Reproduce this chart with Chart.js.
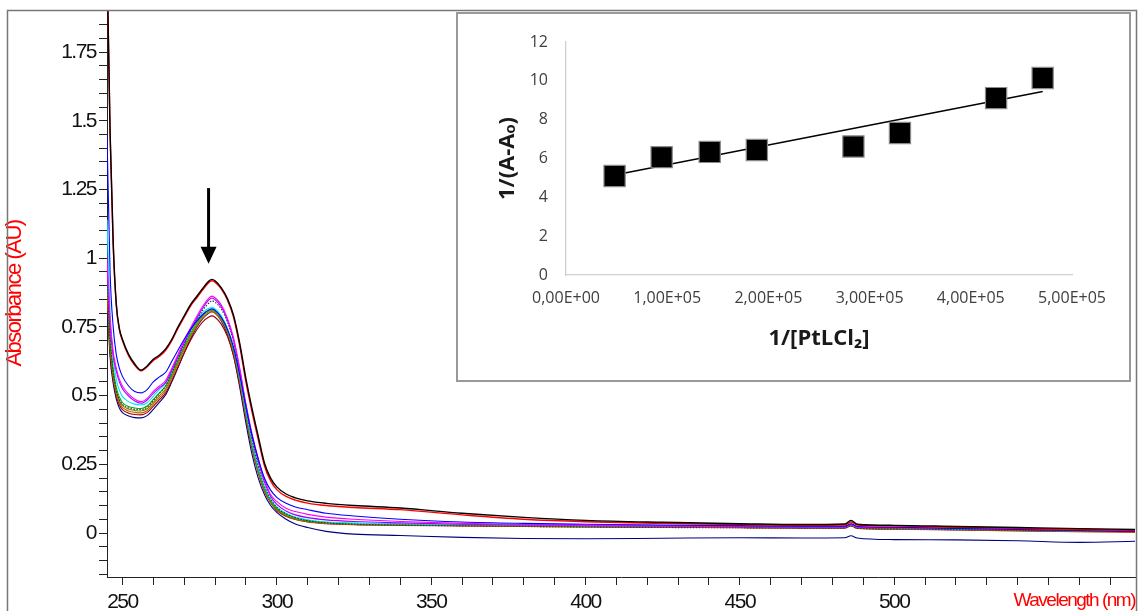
<!DOCTYPE html>
<html>
<head>
<meta charset="utf-8">
<script src="https://cdn.jsdelivr.net/npm/chart.js@4.4.1/dist/chart.umd.min.js"></script>
<style>
  html, body { margin: 0; padding: 0; background: #fff; overflow: hidden; }
  #wrap { position: relative; width: 1141px; height: 611px; }
  #main { position: absolute; left: 0; top: 0; }
  #inset { position: absolute; left: 456px; top: 12px; width: 675px; height: 370px;
           box-sizing: border-box; border: 2px solid #999; background: #fff; }
  #insetChart { display: block; }
</style>
</head>
<body>
<div id="wrap">
  <canvas id="main" width="1141" height="611"></canvas>
  <div id="inset"><canvas id="insetChart" width="671" height="366"></canvas></div>
</div>
<script>
/* ── Spectra (absorbance vs wavelength) ─────────────────────── */
var wavelengths = [245,246,247,248,249,250,252,254,256,258,260,262,264,266,268,270,272,274,276,278,279,280,
  282,284,286,288,290,292,294,296,298,300,303,306,310,316,325,340,360,380,400,425,450,470,484,486,488,500,520,540,560,578];

var absBlack   = [2.1,1.46,1.06,0.835,0.745,0.705, 0.65,0.615,0.593,0.608,0.632,0.648,0.67,0.705,0.75,0.79,
  0.83,0.86,0.89,0.917,0.923,0.918, 0.893,0.853,0.792,0.69,0.562, 0.452,0.352,0.255,0.2,0.168,
  0.142,0.128,0.117,0.108,0.1, 0.091,0.072,0.057,0.046,0.039, 0.034,0.031,0.033,0.046,0.032, 0.028,0.024,0.02,0.016,0.013];
var absRed     = [2.1,1.45,1.05,0.83,0.74,0.70, 0.645,0.61,0.59,0.605,0.628,0.643,0.665,0.70,0.745,0.785,
  0.825,0.855,0.885,0.912,0.918,0.913, 0.888,0.848,0.785,0.68,0.55, 0.44,0.34,0.245,0.19,0.158,
  0.133,0.12,0.109,0.1,0.093, 0.085,0.066,0.05,0.041,0.035, 0.031,0.028,0.029,0.04,0.029, 0.025,0.021,0.017,0.013,0.009];
var absBlue    = [1.45,0.95,0.75,0.65,0.6,0.57, 0.535,0.515,0.51,0.522,0.55,0.568,0.585,0.625,0.665,0.705,
  0.74,0.77,0.795,0.811,0.815,0.81, 0.785,0.742,0.675,0.575,0.46, 0.355,0.27,0.2,0.156,0.13,
  0.108,0.095,0.085,0.072,0.062, 0.05,0.04,0.035,0.032,0.029, 0.027,0.025,0.025,0.034,0.024, 0.021,0.017,0.013,0.009,0.006];
var absMagenta = [1.0,0.78,0.66,0.6,0.56,0.535, 0.505,0.487,0.478,0.49,0.515,0.535,0.555,0.6,0.65,0.7,
  0.745,0.787,0.825,0.855,0.862,0.856, 0.83,0.782,0.71,0.6,0.47, 0.36,0.27,0.195,0.14,0.115,
  0.09,0.078,0.068,0.058,0.05, 0.042,0.035,0.031,0.028,0.026, 0.024,0.023,0.023,0.033,0.022, 0.02,0.018,0.016,0.014,0.012];
var absPurple  = [0.98,0.76,0.645,0.59,0.55,0.525, 0.498,0.48,0.472,0.484,0.508,0.528,0.548,0.592,0.642,0.692,
  0.738,0.78,0.818,0.848,0.855,0.849, 0.823,0.775,0.703,0.594,0.465, 0.352,0.26,0.186,0.134,0.104,
  0.08,0.066,0.056,0.048,0.042, 0.037,0.032,0.029,0.027,0.025, 0.023,0.022,0.022,0.031,0.021, 0.019,0.017,0.015,0.013,0.011];
var absCyan    = [1.14,0.8,0.64,0.56,0.52,0.497, 0.478,0.469,0.466,0.474,0.498,0.522,0.545,0.59,0.64,0.69,
  0.735,0.775,0.803,0.818,0.82,0.815, 0.79,0.745,0.675,0.57,0.445, 0.33,0.238,0.168,0.122,0.095,
  0.072,0.058,0.048,0.04,0.036, 0.033,0.031,0.029,0.027,0.026, 0.024,0.023,0.023,0.031,0.022, 0.019,0.016,0.013,0.01,0.008];
var absGray    = [0.93,0.7,0.585,0.52,0.486,0.468, 0.455,0.45,0.449,0.458,0.482,0.508,0.535,0.582,0.634,0.686,
  0.735,0.776,0.81,0.837,0.845,0.84, 0.815,0.768,0.695,0.585,0.455, 0.34,0.245,0.172,0.125,0.093,
  0.07,0.056,0.045,0.037,0.032, 0.029,0.026,0.024,0.022,0.02, 0.019,0.018,0.018,0.026,0.017, 0.015,0.012,0.01,0.008,0.006];
var absGreen   = [0.97,0.72,0.6,0.53,0.495,0.475, 0.46,0.455,0.453,0.462,0.486,0.51,0.535,0.58,0.63,0.68,
  0.725,0.765,0.795,0.812,0.815,0.81, 0.785,0.74,0.67,0.565,0.44, 0.325,0.232,0.163,0.118,0.09,
  0.068,0.055,0.045,0.039,0.035, 0.032,0.03,0.028,0.026,0.025, 0.023,0.022,0.022,0.03,0.021, 0.018,0.015,0.012,0.009,0.007];
var absOlive   = [0.92,0.69,0.58,0.515,0.482,0.464, 0.451,0.446,0.444,0.452,0.476,0.5,0.525,0.571,0.622,0.673,
  0.718,0.758,0.789,0.806,0.81,0.805, 0.78,0.735,0.664,0.558,0.432, 0.318,0.227,0.158,0.114,0.086,
  0.065,0.052,0.043,0.037,0.033, 0.03,0.028,0.026,0.024,0.023, 0.021,0.02,0.02,0.028,0.019, 0.016,0.013,0.01,0.007,0.005];
var absBrown   = [0.9,0.675,0.57,0.508,0.475,0.457, 0.444,0.439,0.437,0.445,0.469,0.493,0.518,0.564,0.615,0.666,
  0.712,0.752,0.783,0.801,0.805,0.8, 0.775,0.73,0.658,0.552,0.427, 0.313,0.223,0.155,0.112,0.084,
  0.063,0.05,0.041,0.035,0.031, 0.029,0.027,0.025,0.023,0.022, 0.02,0.019,0.019,0.027,0.018, 0.015,0.012,0.009,0.006,0.004];
var absDarkRed = [0.88,0.66,0.56,0.5,0.467,0.449, 0.436,0.431,0.43,0.438,0.461,0.485,0.51,0.555,0.605,0.655,
  0.7,0.738,0.768,0.786,0.79,0.785, 0.76,0.716,0.645,0.54,0.418, 0.306,0.218,0.152,0.11,0.082,
  0.061,0.049,0.04,0.034,0.03, 0.028,0.026,0.024,0.022,0.021, 0.019,0.018,0.018,0.026,0.017, 0.014,0.011,0.008,0.005,0.003];
var absNavy    = [0.86,0.64,0.545,0.488,0.455,0.438, 0.426,0.42,0.419,0.427,0.45,0.476,0.503,0.55,0.602,0.655,
  0.705,0.748,0.78,0.8,0.805,0.8, 0.772,0.722,0.645,0.53,0.4, 0.285,0.2,0.14,0.1,0.075,
  0.05,0.033,0.02,0.006,-0.004, -0.009,-0.016,-0.02,-0.021,-0.019, -0.017,-0.018,-0.017,-0.01,-0.018, -0.024,-0.025,-0.028,-0.034,-0.03];

var yMajorLabels = ['0', '0.25', '0.5', '0.75', '1', '1.25', '1.5', '1.75'];
var xMajorLabels = ['250', '300', '350', '400', '450', '500'];

/* ── Inset: double reciprocal plot ──────────────────────────── */
var recipConc   = [4.8e4, 9.45e4, 1.42e5, 1.886e5, 2.84e5, 3.30e5, 4.25e5, 4.71e5];
var recipAbs    = [5.10, 6.07, 6.34, 6.44, 6.62, 7.31, 9.11, 10.15];
var fitX        = [4.8e4, 4.71e5];
var fitY        = [5.15, 9.45];
var insetXLabels = ['0,00E+00', '1,00E+05', '2,00E+05', '3,00E+05', '4,00E+05', '5,00E+05'];
var insetYLabels = ['0', '2', '4', '6', '8', '10', '12'];

var mainFont = "'Liberation Sans', 'Arial', sans-serif";
var insetFont = "'Open Sans', 'Liberation Sans', sans-serif";

function pts(ys) {
  return wavelengths.map(function(x, i) { return { x: x, y: ys[i] }; });
}

function spectrum(data, color, width, dash) {
  return {
    data: pts(data), borderColor: color, borderWidth: width || 1.1,
    borderDash: dash || [], pointRadius: 0, fill: false,
    cubicInterpolationMode: 'monotone'
  };
}

function noOverflow(scale) {
  scale.paddingTop = 0; scale.paddingBottom = 0;
  scale.paddingLeft = 0; scale.paddingRight = 0;
}

var frameAndArrow = {
  id: 'frameAndArrow',
  beforeDraw: function(chart) {
    var ctx = chart.ctx;
    ctx.save();
    ctx.fillStyle = '#fff';
    ctx.fillRect(0, 0, chart.width, chart.height);
    ctx.restore();
    // the original axis text is set tight (narrow face)
    ctx.letterSpacing = '-1.5px';
  },
  afterDatasetsDraw: function(chart) {
    var ctx = chart.ctx, xs = chart.scales.x, ys = chart.scales.y;
    var px = xs.getPixelForValue(277.9);
    var top = ys.getPixelForValue(1.255), tip = ys.getPixelForValue(0.98);
    ctx.save();
    ctx.strokeStyle = '#000';
    ctx.fillStyle = '#000';
    ctx.lineWidth = 3;
    ctx.beginPath();
    ctx.moveTo(px, top);
    ctx.lineTo(px, tip - 12);
    ctx.stroke();
    ctx.beginPath();
    ctx.moveTo(px - 8, tip - 17);
    ctx.lineTo(px + 8, tip - 17);
    ctx.lineTo(px, tip);
    ctx.closePath();
    ctx.fill();
    ctx.restore();
  },
  afterDraw: function(chart) {
    var ctx = chart.ctx;
    ctx.save();
    ctx.strokeStyle = '#777';
    ctx.lineWidth = 1.5;
    ctx.strokeRect(7.5, 10.5, 1129, 700);
    ctx.restore();
  }
};

function labelFor(list, v) {
  for (var i = 0; i < list.length; i++) {
    if (Math.abs(parseFloat(list[i]) - v) < 1e-6) return list[i];
  }
  return '';
}

new Chart(document.getElementById('main'), {
  type: 'line',
  data: {
    datasets: [
      spectrum(absBlack, '#000000', 1.4),
      spectrum(absRed, '#ff0000', 1.4),
      spectrum(absBlue, '#0000ff'),
      spectrum(absMagenta, '#ff00ff'),
      spectrum(absPurple, '#9900ff'),
      spectrum(absGray, '#333333', 1.1, [1.5, 1.5]),
      spectrum(absCyan, '#00e5ff'),
      spectrum(absGreen, '#00b000'),
      spectrum(absOlive, '#808000'),
      spectrum(absBrown, '#c06000'),
      spectrum(absDarkRed, '#a00000'),
      spectrum(absNavy, '#000080')
    ]
  },
  options: {
    responsive: false, animation: false,
    layout: { padding: { top: 10, right: 6, left: 0, bottom: 0 } },
    plugins: { legend: { display: false }, tooltip: { enabled: false } },
    scales: {
      x: {
        type: 'linear', min: 245, max: 578,
        afterBuildTicks: function(scale) {
          var t = [];
          for (var v = 250; v <= 570; v += 10) t.push({ value: v });
          scale.ticks = t;
        },
        afterFit: function(scale) { scale.height = 34; noOverflow(scale); },
        grid: { drawOnChartArea: false, drawTicks: true, tickLength: 8, tickColor: '#222', tickWidth: 1 },
        border: { display: true, color: '#222', width: 1 },
        ticks: {
          autoSkip: false, maxRotation: 0, padding: 5, color: '#111',
          font: { family: mainFont, size: 21 },
          callback: function(v) { return labelFor(xMajorLabels, v); }
        },
        title: {
          display: true, text: 'Wavelength (nm)', align: 'end', color: '#ff0000',
          font: { family: mainFont, size: 19, lineHeight: 1 }, padding: { top: 0, bottom: 1 }
        }
      },
      y: {
        type: 'linear', min: -0.16, max: 1.903,
        afterBuildTicks: function(scale) {
          var t = [];
          for (var k = -3; k <= 37; k++) t.push({ value: Math.round(k * 5) / 100 });
          scale.ticks = t;
        },
        afterFit: function(scale) { scale.width = 107; noOverflow(scale); },
        grid: { drawOnChartArea: false, drawTicks: true, tickLength: 8, tickColor: '#222', tickWidth: 1 },
        border: { display: true, color: '#222', width: 1 },
        ticks: {
          autoSkip: false, padding: 3, color: '#111',
          font: { family: mainFont, size: 21 },
          callback: function(v) { return labelFor(yMajorLabels, v); }
        },
        title: {
          display: true, text: 'Absorbance (AU)', color: '#ff0000',
          font: { family: mainFont, size: 22, lineHeight: 1 }, padding: { top: 4, bottom: 0 }
        }
      }
    }
  },
  plugins: [frameAndArrow]
});

new Chart(document.getElementById('insetChart'), {
  type: 'scatter',
  data: {
    datasets: [
      {
        data: recipConc.map(function(x, i) { return { x: x, y: recipAbs[i] }; }),
        pointStyle: 'rect', pointRadius: 15, pointHoverRadius: 15,
        backgroundColor: '#000', borderColor: '#8a8a8a', borderWidth: 1.2
      },
      {
        type: 'line',
        data: fitX.map(function(x, i) { return { x: x, y: fitY[i] }; }),
        borderColor: '#000', borderWidth: 1.3, pointRadius: 0, fill: false
      }
    ]
  },
  options: {
    responsive: false, animation: false,
    layout: { padding: { top: 28, right: 57, left: 0, bottom: 0 } },
    plugins: { legend: { display: false }, tooltip: { enabled: false } },
    scales: {
      x: {
        type: 'linear', min: 0, max: 5e5,
        ticks: {
          stepSize: 1e5, padding: 14, color: '#404040', maxRotation: 0,
          font: { family: insetFont, size: 16 },
          callback: function(v, i) { return insetXLabels[i]; }
        },
        afterFit: function(scale) { scale.height = 105; noOverflow(scale); },
        grid: { display: false, drawTicks: false },
        border: { display: true, color: '#d0d0d0', width: 1.3 },
        title: {
          display: true, text: '1/[PtLCl\u2082]', color: '#1a1a1a',
          font: { family: insetFont, size: 22, weight: 'bold', lineHeight: 1.2 },
          padding: { top: 0, bottom: 28 }
        }
      },
      y: {
        type: 'linear', min: 0, max: 12,
        ticks: {
          stepSize: 2, padding: 18, color: '#404040',
          font: { family: insetFont, size: 16 },
          callback: function(v, i) { return insetYLabels[i]; }
        },
        afterFit: function(scale) { scale.width = 108; noOverflow(scale); },
        grid: { display: false, drawTicks: false },
        border: { display: true, color: '#d0d0d0', width: 1.3 },
        title: {
          display: true, text: '1/(A-A\u2092)', color: '#1a1a1a',
          font: { family: insetFont, size: 22, weight: 'bold', lineHeight: 1.2 },
          padding: { top: 37, bottom: 0 }
        }
      }
    }
  }
});
</script>
</body>
</html>
